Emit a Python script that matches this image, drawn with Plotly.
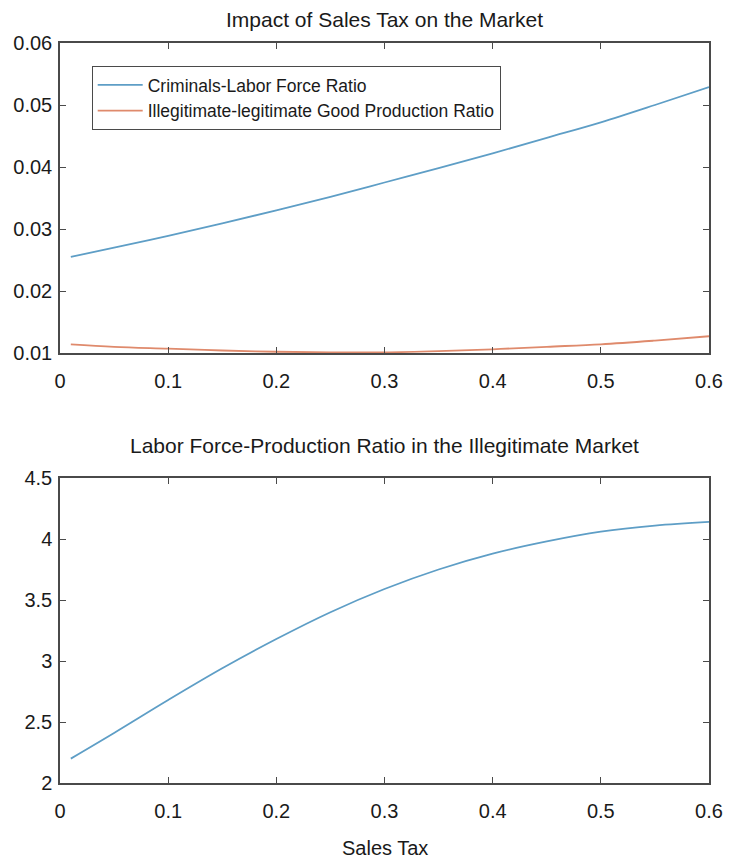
import plotly.graph_objects as go

# Sales tax rate (x) shared by all curves
sales_tax = [0.01, 0.05, 0.10, 0.15, 0.20, 0.25, 0.30, 0.35, 0.40, 0.45, 0.50, 0.55, 0.60]

# Top panel series
criminals_labor_ratio = [0.0255, 0.0270, 0.0289, 0.0309, 0.0330, 0.0352, 0.0375,
                         0.0398, 0.0422, 0.0447, 0.0472, 0.0500, 0.0529]
illegit_legit_ratio = [0.0114, 0.0110, 0.0107, 0.0104, 0.0102, 0.0101, 0.0101,
                       0.0103, 0.0106, 0.0110, 0.0114, 0.0120, 0.0127]

# Bottom panel series
labor_production_ratio = [2.20, 2.41, 2.68, 2.94, 3.18, 3.40, 3.59,
                          3.75, 3.88, 3.98, 4.06, 4.11, 4.14]

x_ticks = [0, 0.1, 0.2, 0.3, 0.4, 0.5, 0.6]
x_tick_labels = ["0", "0.1", "0.2", "0.3", "0.4", "0.5", "0.6"]
top_y_ticks = [0.01, 0.02, 0.03, 0.04, 0.05, 0.06]
top_y_labels = ["0.01", "0.02", "0.03", "0.04", "0.05", "0.06"]
bottom_y_ticks = [2, 2.5, 3, 3.5, 4, 4.5]
bottom_y_labels = ["2", "2.5", "3", "3.5", "4", "4.5"]

BLUE = "#5e9ec6"
ORANGE = "#df8a6c"
AXIS = "#4a4a4a"
FONT = "Liberation Sans, Arial, sans-serif"

fig = go.Figure()

fig.add_trace(go.Scatter(
    x=sales_tax, y=criminals_labor_ratio, mode="lines", line_shape="spline",
    line=dict(color=BLUE, width=1.8), name="Criminals-Labor Force Ratio",
    xaxis="x", yaxis="y"))
fig.add_trace(go.Scatter(
    x=sales_tax, y=illegit_legit_ratio, mode="lines", line_shape="spline",
    line=dict(color=ORANGE, width=1.8), name="Illegitimate-legitimate Good Production Ratio",
    xaxis="x", yaxis="y"))
fig.add_trace(go.Scatter(
    x=sales_tax, y=labor_production_ratio, mode="lines", line_shape="spline",
    line=dict(color=BLUE, width=1.8), showlegend=False,
    xaxis="x2", yaxis="y2"))

W, H = 735, 863
ML, MR, MT, MB = 60, 20, 43, 80
plot_h = H - MT - MB

def frac(py):
    """Pixel row (from top of page) to paper fraction."""
    return (H - MB - py) / plot_h

axis_common = dict(
    showline=True, linecolor=AXIS, linewidth=1.5, mirror="ticks",
    ticks="inside", ticklen=6, tickwidth=1.2, tickcolor=AXIS,
    showgrid=False, zeroline=False,
    tickfont=dict(family=FONT, size=20, color="#1a1a1a"),
)

fig.update_layout(
    width=W, height=H,
    margin=dict(l=ML, r=MR, t=MT, b=MB),
    paper_bgcolor="white", plot_bgcolor="white",
    font=dict(family=FONT, color="#1a1a1a"),
    xaxis=dict(domain=[0, 1], range=[0, 0.6], tickvals=x_ticks, ticktext=x_tick_labels,
               anchor="y", ticklabelstandoff=9, **axis_common),
    yaxis=dict(domain=[frac(353), 1], range=[0.01, 0.06], tickvals=top_y_ticks,
               ticktext=top_y_labels, anchor="x", ticklabelstandoff=2, **axis_common),
    xaxis2=dict(domain=[0, 1], range=[0, 0.6], tickvals=x_ticks, ticktext=x_tick_labels,
                anchor="y2", ticklabelstandoff=9, **axis_common),
    yaxis2=dict(domain=[0, frac(478)], range=[2, 4.5], tickvals=bottom_y_ticks,
                ticktext=bottom_y_labels, anchor="x2", ticklabelstandoff=2, **axis_common),
    legend=dict(
        x=(92 - ML) / (W - ML - MR), y=frac(66), xanchor="left", yanchor="top",
        bordercolor=AXIS, borderwidth=1, bgcolor="white",
        font=dict(family=FONT, size=17.5, color="#1a1a1a"),
        itemwidth=45, tracegroupgap=0,
    ),
    annotations=[
        dict(text="Impact of Sales Tax on the Market", xref="paper", yref="paper",
             x=0.5, y=frac(20), xanchor="center", yanchor="middle", showarrow=False,
             font=dict(family=FONT, size=21, color="#1a1a1a")),
        dict(text="Labor Force-Production Ratio in the Illegitimate Market", xref="paper",
             yref="paper", x=0.5, y=frac(445), xanchor="center", yanchor="middle",
             showarrow=False, font=dict(family=FONT, size=21, color="#1a1a1a")),
        dict(text="Sales Tax", xref="paper", yref="paper", x=0.5, y=frac(848),
             xanchor="center", yanchor="middle", showarrow=False,
             font=dict(family=FONT, size=20, color="#1a1a1a")),
    ],
)

fig.write_html("out.html")
